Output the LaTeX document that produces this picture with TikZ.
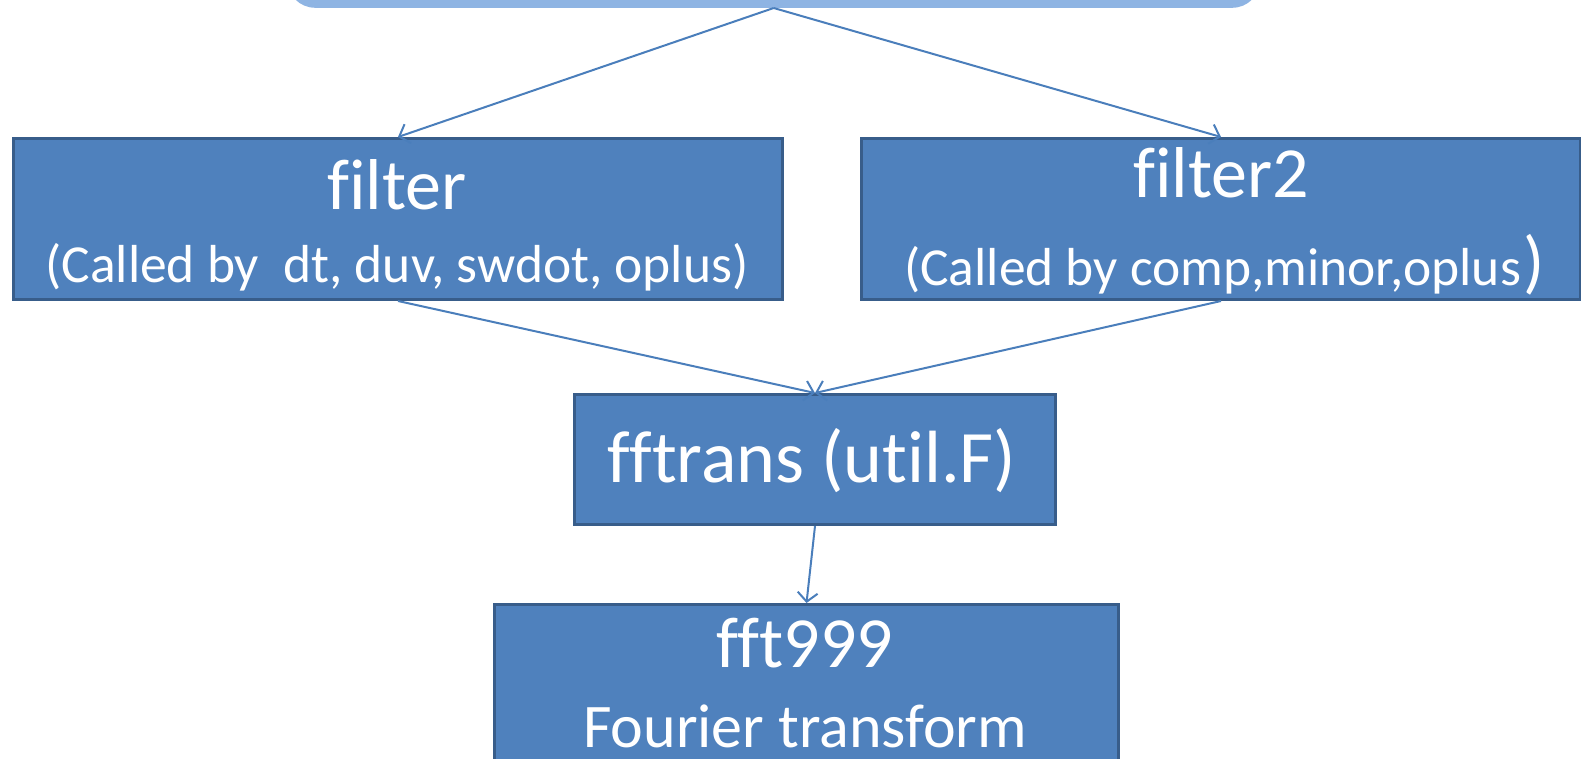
\documentclass[tikz,border=0pt]{standalone}
\usepackage{fontspec}
\setmainfont{Carlito}[Ligatures={NoCommon,NoContextual}]
\usetikzlibrary{arrows.meta}
\definecolor{boxfill}{HTML}{4F81BD}
\definecolor{boxline}{HTML}{385D8A}
\definecolor{conn}{HTML}{4A7EBB}
\definecolor{topfill}{HTML}{8EB4E3}
\tikzset{
  blockbox/.style={draw=boxline, fill=boxfill, line width=3pt, inner sep=0pt, anchor=north west},
  lbl/.style={text=white, inner sep=0pt, anchor=base},
  big/.style={font=\fontsize{72}{80}\selectfont},
  mid/.style={font=\fontsize{62}{70}\selectfont},
  small/.style={font=\fontsize{53.5}{60}\selectfont},
  connector/.style={draw=conn, line width=2pt, -{Straight Barb[length=9pt,width=20pt,line width=2pt]}}
}
\begin{document}
\begin{tikzpicture}[x=1pt,y=-1pt]
\useasboundingbox (0,0) rectangle (1581,759);
\begin{scope}
\clip (0,0) rectangle (1581,759);
\node[fill=topfill, rounded corners=28pt, inner sep=0pt, minimum width=973pt, minimum height=200pt, anchor=south west] (top) at (287,8) {};
\node[blockbox, minimum width=769pt, minimum height=161pt] (filter) at (12,137) {};
\node[blockbox, minimum width=719pt, minimum height=161pt] (filtertwo) at (860,137) {};
\node[blockbox, minimum width=481pt, minimum height=130pt] (fftrans) at (573,393) {};
\node[blockbox, minimum width=624pt, minimum height=200pt] (fft) at (493,603) {};
\end{scope}
\node[lbl, big] (t1) at (397,210) {filter};
\node[lbl, small] (s1) at (397,283) {(Called by\ \ dt, duv, swdot, oplus)};
\node[lbl, big] (t2) at (1221,198) {filter2};
\node[lbl, small, anchor=base west] (s2) at (904,285) {(Called by comp,minor,oplus\hspace{2pt}\fontsize{70}{70}\selectfont)};
\node[lbl, font=\fontsize{74}{80}\selectfont] (t3) at (812,482) {fftrans (util.F)};
\node[lbl, big] (t4) at (805,667) {fft999};
\node[lbl, mid, text depth=0pt] (t5) at (805,747) {Fourier transform};
\draw[connector] (top.south) -- (filter.north);
\draw[connector] (top.south) -- (filtertwo.north);
\draw[connector] (filter.south) -- (fftrans.north);
\draw[connector] (filtertwo.south) -- (fftrans.north);
\draw[connector] (fftrans.south) -- (fft.north);
\end{tikzpicture}
\end{document}
